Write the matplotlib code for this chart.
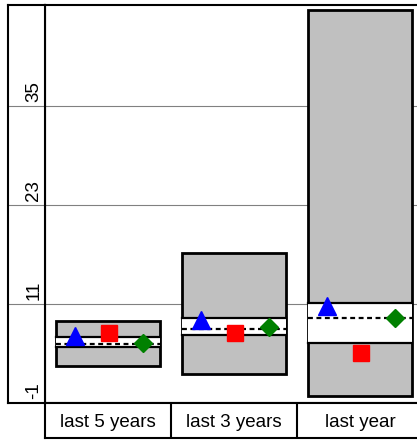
import matplotlib.pyplot as plt
from matplotlib.patches import Rectangle

plt.rcParams['font.family'] = ['Liberation Sans', 'DejaVu Sans']

categories = ['last 5 years', 'last 3 years', 'last year']
box_low = [3.5, 2.5, -0.15]
box_high = [8.95, 17.2, 46.6]
band_low = [5.8, 7.3, 6.25]
band_high = [7.05, 9.35, 11.1]
dash_val = [6.1, 8.0, 9.25]
tri_val = [7.1, 9.05, 10.75]
sq_val = [7.45, 7.5, 5.1]
dia_val = [6.3, 8.2, 9.3]
yticks = [-1, 11, 23, 35]

W, H = 417, 441
fig = plt.figure(figsize=(W / 100, H / 100), dpi=100)

def px_axes(x0, y0, x1, y1):
    # pixel box (top-left origin) -> figure axes
    return fig.add_axes([x0 / W, (H - y1) / H, (x1 - x0) / W, (y1 - y0) / H])

ylim = (-1, 47.24)
grid_col = '#808080'

# main plot area
ax = px_axes(45, 5, 423, 403)
ax.set_xlim(-0.5, 2.5)
ax.set_ylim(*ylim)
ax.set_xticks([])
ax.set_yticks([])
for s in ax.spines.values():
    s.set_linewidth(1.5)
for t in yticks[1:]:
    ax.axhline(t, color=grid_col, lw=0.8, zorder=0)

hw = 0.415
for i in range(len(categories)):
    ax.add_patch(Rectangle((i - hw, box_low[i]), 2 * hw, box_high[i] - box_low[i],
                           facecolor='#c0c0c0', edgecolor='black', lw=2, zorder=2))
    ax.add_patch(Rectangle((i - hw, band_low[i]), 2 * hw, band_high[i] - band_low[i],
                           facecolor='white', edgecolor='none', zorder=3))
    ax.plot([i - hw, i + hw], [band_low[i]] * 2, color='black', lw=1.6, zorder=4)
    ax.plot([i - hw, i + hw], [band_high[i]] * 2, color='black', lw=1.6, zorder=4)
    ax.plot([i - hw, i + hw], [dash_val[i]] * 2, color='black', lw=1.6,
            ls=(0, (2.2, 1.6)), zorder=4)

xs = range(len(categories))
ax.plot([x - 0.262 for x in xs], tri_val, ls='none', marker='^', ms=13,
        color='blue', zorder=5)
ax.plot([x + 0.005 for x in xs], sq_val, ls='none', marker='s', ms=12,
        color='red', zorder=5)
ax.plot([x + 0.275 for x in xs], dia_val, ls='none', marker='D', ms=8.7,
        color='green', zorder=5)

# left tick panel
axl = px_axes(8, 5, 45, 403)
axl.set_xlim(0, 1)
axl.set_ylim(*ylim)
axl.set_xticks([])
axl.set_yticks([])
for s in axl.spines.values():
    s.set_linewidth(1.5)
for t in yticks:
    if t > ylim[0]:
        axl.axhline(t, color=grid_col, lw=0.8)
    axl.text(0.7, t + 0.5, str(t), rotation=90, ha='center', va='bottom', fontsize=13.5)

# category label row
axb = px_axes(45, 403, 423, 438)
axb.set_xlim(-0.5, 2.5)
axb.set_ylim(0, 1)
axb.set_xticks([])
axb.set_yticks([])
for s in axb.spines.values():
    s.set_linewidth(1.5)
for x in [0.5, 1.5]:
    axb.axvline(x, color='black', lw=1.5)
for i, c in enumerate(categories):
    axb.text(i, 0.45, c, ha='center', va='center', fontsize=13.5)

fig.savefig('out.png', dpi=100)
